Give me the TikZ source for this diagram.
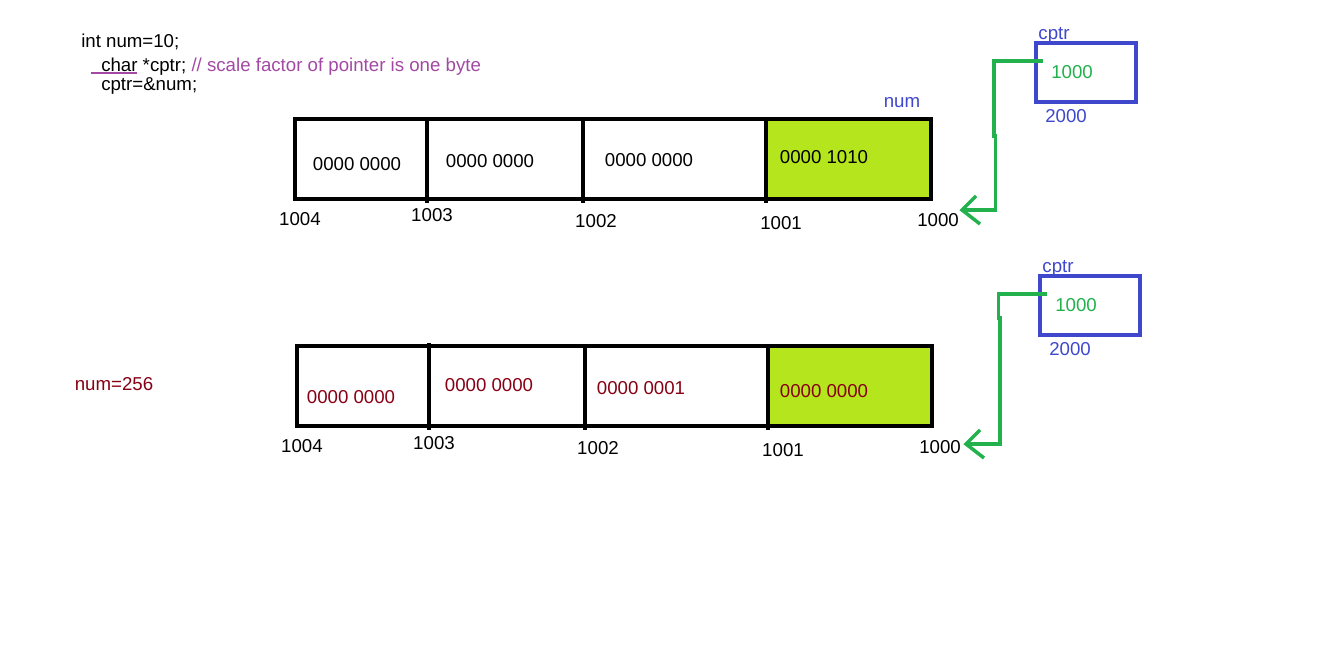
\documentclass[tikz,border=0pt]{standalone}
\usepackage{fontspec}
\setmainfont{Liberation Sans}
\definecolor{lime}{HTML}{B5E61D}
\definecolor{pgreen}{HTML}{22B14C}
\definecolor{pblue}{HTML}{3F48CC}
\definecolor{ppurple}{HTML}{A349A4}
\definecolor{dred}{HTML}{880015}
\begin{document}
\begin{tikzpicture}[x=0.75pt,y=-0.75pt,
  txt/.style={inner sep=0pt,font=\fontsize{14pt}{16pt}\selectfont},
  cell/.style={txt,anchor=center},
  addr/.style={txt,anchor=center},
  codeline/.style={txt,anchor=base west},
  mem/.style={draw=black,line width=2.4pt},
  divider/.style={draw=black,line width=2.6pt},
  thickdiv/.style={draw=black,line width=3.6pt},
  ptrbox/.style={draw=pblue,line width=2.3pt},
  ptrline/.style={draw=pgreen,line width=2.6pt},
]
\path[use as bounding box,fill=white] (0,0) rectangle (1326,644);

% code
\node[codeline] (l1) at (81,47) {int num=10;};
\node[codeline] (l2) at (101,71) {char *cptr; \textcolor{ppurple}{// scale factor of pointer is one byte}};
\node[codeline] (l3) at (101,90) {cptr=\&num;};
\coordinate (ul1) at (91,73);
\coordinate (ul2) at (137,73);
\draw[ppurple,line width=2pt] (ul1) -- (ul2);

% ---------- top memory row ----------
\fill[lime] (766,119) rectangle (931,199);
\draw[mem] (295,119) rectangle (931,199);
\draw[thickdiv] (427,117) -- (427,203);
\draw[divider] (583,119) -- (583,203);
\draw[divider] (766,119) -- (766,203);
\node[cell] (t4) at (357,164) {0000 0000};
\node[cell] (t3) at (490,161) {0000 0000};
\node[cell] (t2) at (649,160) {0000 0000};
\node[cell] (t1) at (824,157) {0000 1010};
\node[addr] (a4) at (300,219) {1004};
\node[addr] (a3) at (432,215) {1003};
\node[addr] (a2) at (596,221) {1002};
\node[addr] (a1) at (781,223) {1001};
\node[addr] (a0) at (938,220) {1000};
\node[txt,anchor=base,text=pblue] (numlbl) at (902,107) {num};

% pointer top
\node[ptrbox,minimum width=100*0.75pt,minimum height=59*0.75pt,inner sep=0pt] (pbox) at (1086,72.5) {};
\node[txt,anchor=base,text=pblue] (pname) at (1054,39) {cptr};
\node[cell,text=pgreen] (pval) at (1072,72) {1000};
\node[cell,text=pblue] (paddr) at (1066,116) {2000};
\coordinate (ps) at (1043,61);
\coordinate (pc1) at (994,61);
\coordinate (pc2) at (994,136);
\coordinate (pc3) at (995.5,136);
\coordinate (pc4) at (995.5,210);
\coordinate (ptip) at (962,210);
\coordinate (ph1) at (976,196);
\coordinate (ph2) at (980,224);
\draw[ptrline] (ps) -- (pc1) -- (pc2) -- (pc3) -- (pc4) -- (ptip);
\draw[ptrline] (ph1) -- (ptip) -- (ph2);

% ---------- bottom memory row ----------
\node[txt,anchor=base,text=dred] (n256) at (114,390) {num=256};
\fill[lime] (768,346) rectangle (932,426);
\draw[mem] (297,346) rectangle (932,426);
\draw[thickdiv] (429,343) -- (429,430);
\draw[divider] (585,346) -- (585,430);
\draw[divider] (768,346) -- (768,430);
\node[cell,text=dred] (b4) at (351,397) {0000 0000};
\node[cell,text=dred] (b3) at (489,385) {0000 0000};
\node[cell,text=dred] (b2) at (641,388) {0000 0001};
\node[cell,text=dred] (b1) at (824,391) {0000 0000};
\node[addr] (c4) at (302,446) {1004};
\node[addr] (c3) at (434,443) {1003};
\node[addr] (c2) at (598,448) {1002};
\node[addr] (c1) at (783,450) {1001};
\node[addr] (c0) at (940,447) {1000};

% pointer bottom
\node[ptrbox,minimum width=100*0.75pt,minimum height=59*0.75pt,inner sep=0pt] (qbox) at (1090,305.5) {};
\node[txt,anchor=base,text=pblue] (qname) at (1058,272) {cptr};
\node[cell,text=pgreen] (qval) at (1076,305) {1000};
\node[cell,text=pblue] (qaddr) at (1070,349) {2000};
\coordinate (qs) at (1047,294);
\coordinate (qc1) at (998.5,294);
\coordinate (qc2) at (998.5,318);
\coordinate (qc3) at (1000,318);
\coordinate (qc4) at (1000,444);
\coordinate (qtip) at (966,444);
\coordinate (qh1) at (980,430);
\coordinate (qh2) at (984,458);
\draw[ptrline] (qs) -- (qc1) -- (qc2) -- (qc3) -- (qc4) -- (qtip);
\draw[ptrline] (qh1) -- (qtip) -- (qh2);
\end{tikzpicture}
\end{document}
